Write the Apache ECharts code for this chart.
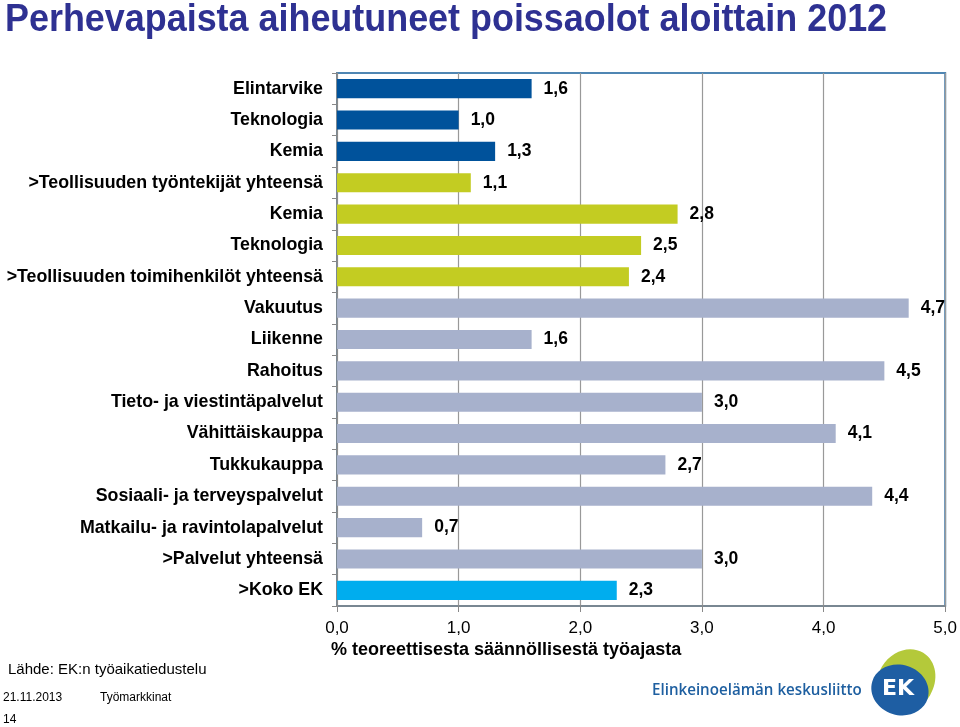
<!DOCTYPE html>
<html><head><meta charset="utf-8">
<script src="https://cdn.jsdelivr.net/npm/echarts@6/dist/echarts.min.js"></script>
<style>html,body{margin:0;padding:0;background:#fff}#c{width:960px;height:727px}</style>
</head><body><div id="c"></div>
<script>
const categories = ['Elintarvike','Teknologia','Kemia','>Teollisuuden työntekijät yhteensä','Kemia','Teknologia','>Teollisuuden toimihenkilöt yhteensä','Vakuutus','Liikenne','Rahoitus','Tieto- ja viestintäpalvelut','Vähittäiskauppa','Tukkukauppa','Sosiaali- ja terveyspalvelut','Matkailu- ja ravintolapalvelut','>Palvelut yhteensä','>Koko EK'];
const values = [1.6,1.0,1.3,1.1,2.8,2.5,2.4,4.7,1.6,4.5,3.0,4.1,2.7,4.4,0.7,3.0,2.3];
const groupColors = ['#00529b','#00529b','#00529b','#c3cc22','#c3cc22','#c3cc22','#c3cc22','#a7b1cc','#a7b1cc','#a7b1cc','#a7b1cc','#a7b1cc','#a7b1cc','#a7b1cc','#a7b1cc','#a7b1cc','#00adee'];
const xTicks = [0,1,2,3,4,5];
const titleText = 'Perhevapaista aiheutuneet poissaolot aloittain 2012';
const axisTitle = '% teoreettisesta säännöllisestä työajasta';
const sans = 'Arial, "Liberation Sans", sans-serif';
const chart = echarts.init(document.getElementById('c'));
chart.setOption({
  animation:false,
  grid:{left:337,right:13,top:73,bottom:121,show:true,borderColor:'#4f86b3',borderWidth:2,containLabel:false},
  xAxis:{type:'value',min:xTicks[0],max:xTicks[xTicks.length-1],interval:1,
    axisLine:{show:true,lineStyle:{color:'#888',width:1.5}},
    axisTick:{show:true,length:6,inside:false,lineStyle:{color:'#888'}},
    splitLine:{show:true,lineStyle:{color:'#999',width:1.2}},
    axisLabel:{fontFamily:sans,fontSize:17,color:'#000',margin:14,formatter:v=>v.toFixed(1).replace('.',',')}},
  yAxis:{type:'category',data:categories,inverse:true,
    axisLine:{show:true,lineStyle:{color:'#888',width:1.5}},
    axisTick:{show:true,length:5,lineStyle:{color:'#888'}},
    axisLabel:{fontFamily:sans,fontWeight:'bold',fontSize:17.8,color:'#000',margin:14}},
  series:[{type:'bar',barWidth:'61%',
    data:values.map((v,i)=>({value:v,itemStyle:{color:groupColors[i]}})),
    label:{show:true,position:'right',distance:12,fontFamily:sans,fontWeight:'bold',fontSize:17.5,color:'#000',
      formatter:p=>p.value.toFixed(1).replace('.',',')}}],
  graphic:[
    {type:'text',x:5,y:2,scaleX:0.945,style:{text:titleText,font:'bold 38px '+sans,fill:'#2e3192'}},
    {type:'text',x:331,y:641,style:{text:axisTitle,font:'bold 18px '+sans,fill:'#000'}},
    {type:'text',left:8,top:662,style:{text:'Lähde: EK:n työaikatiedustelu',font:'15px '+sans,fill:'#000'}},
    {type:'text',left:3,top:692,style:{text:'21.11.2013',font:'12px '+sans,fill:'#000'}},
    {type:'text',left:100,top:692,style:{text:'Työmarkkinat',font:'12px '+sans,fill:'#000'}},
    {type:'text',left:3,top:714,style:{text:'14',font:'12px '+sans,fill:'#000'}},
    {type:'text',x:652,y:682,scaleX:0.89,style:{text:'Elinkeinoelämän keskusliitto',font:'600 17px "Open Sans", sans-serif',fill:'#1e5fa0'}},
    {type:'ellipse',shape:{cx:906,cy:681,rx:28,ry:33},rotation:-0.55,origin:[906,681],style:{fill:'#b4c93a'}},
    {type:'ellipse',shape:{cx:900,cy:690,rx:29,ry:25},rotation:-0.3,origin:[900,690],style:{fill:'#1e5ea3'}},
    {type:'text',x:882,y:678,style:{text:'EK',font:'bold 22px "DejaVu Sans", sans-serif',fill:'#fff'}}
  ]
});
</script></body></html>
